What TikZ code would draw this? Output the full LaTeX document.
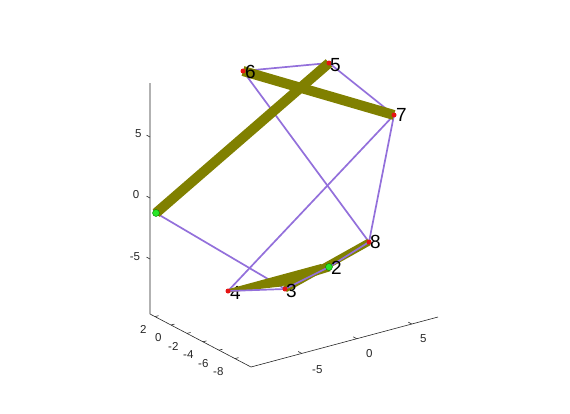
\documentclass[tikz,border=0pt]{standalone}
\usepackage{fontspec}
\setmainfont{Liberation Sans}
\usetikzlibrary{calc}
\definecolor{axc}{RGB}{38,38,38}
\definecolor{edgep}{RGB}{147,112,219}
\definecolor{olivec}{RGB}{128,128,0}
\definecolor{nodered}{RGB}{230,20,20}
\definecolor{nodegreen}{RGB}{40,230,40}
\begin{document}
\begin{tikzpicture}[x=1pt,y=-1pt,
  axisline/.style={draw=axc, line width=0.6pt},
  tickmark/.style={draw=axc, line width=0.6pt},
  ticklbl/.style={font=\fontsize{11.5}{11.5}\selectfont, text=axc, inner sep=0pt},
  thinedge/.style={draw=edgep, line width=1.7pt},
  thickedge/.style={draw=olivec, line width=10pt},
  rednode/.style={circle, fill=nodered, inner sep=0pt, minimum size=5pt},
  greennode/.style={circle, fill=nodegreen, draw=green!50!black, inner sep=0pt, minimum size=7pt, line width=0.4pt},
  lbl/.style={font=\fontsize{19}{19}\selectfont, inner sep=0pt, anchor=west}]
\useasboundingbox (0,0) rectangle (570,413);

% axes
\coordinate (zt) at (150,83);
\coordinate (org) at (150,314);
\coordinate (crn) at (251,367);
\coordinate (xe) at (438,317);
\draw[axisline] (zt) -- (org) -- (crn) -- (xe);

% z ticks
\foreach \yy/\lx/\ly/\t in {137/138.3/133.3/5, 198/136/195/0, 259/135/256.7/-5}{
  \draw[tickmark] (150,\yy) -- ++(-3.5,-1.9);
  \node[ticklbl] (zl\t) at (\lx,\ly) {\t};
}
% y ticks
\foreach \k/\t in {0/2,1/0,2/-2,3/-4,4/-6,5/-8}{
  \pgfmathsetmacro{\tx}{155+16*\k}
  \pgfmathsetmacro{\ty}{314+53*(\tx-150)/101}
  \draw[tickmark] (\tx,\ty) -- ++(3.5,-0.95);
  \node[ticklbl] (yl\k) at ({143.3+15*\k},{329+8.6*\k}) {\t};
}
% x ticks
\foreach \tx/\ty/\lx/\ly/\t in {301.7/353.4/317.3/370/-5, 356.7/338.7/369.3/353.3/0, 411.7/324.0/423.3/339/5}{
  \draw[tickmark] (\tx,\ty) -- ++(-3.5,-1.9);
  \node[ticklbl] (xl\t) at (\lx,\ly) {\t};
}

% graph node positions
\coordinate (p1) at (156,213);
\coordinate (p2) at (329,267);
\coordinate (p3) at (285,289);
\coordinate (p4) at (228,291);
\coordinate (p5) at (329,63);
\coordinate (p6) at (243,71);
\coordinate (p7) at (394,115);
\coordinate (p8) at (369,242);

% thin edges (below thick ones)
\draw[thinedge] (p6) -- (p5);
\draw[thinedge] (p5) -- (p7);
\draw[thinedge] (p6) -- (p8);
\draw[thinedge] (p7) -- (p4);
\draw[thinedge] (p7) -- (p8);
\draw[thinedge] (p1) -- (p3);

% label 4 (partly hidden)
\node[lbl] (l4) at ($(p4)+(2,2)$) {4};

% thick edges
\draw[thickedge] (p1) -- (p5);
\draw[thickedge] (p6) -- (p7);
\draw[thickedge, line width=7pt] (p3) -- (p8);
\fill[olivec] ($(p4)+(-1,-1.5)$) -- (321,264) -- (331,271) -- (281,286.5) -- ($(p4)+(0,1.5)$) -- cycle;

% thin edges on top
\draw[thinedge] (p4) -- (p3);
\draw[thinedge] (p3) -- (p2);
\draw[thinedge] (p2) -- (p8);

% markers
\node[greennode] (n1) at (p1) {};
\node[greennode] (n2) at (p2) {};
\foreach \i in {3,4,5,6,7,8}{ \node[rednode] (n\i) at (p\i) {}; }

% labels
\node[lbl] (l2) at ($(p2)+(2,1)$) {2};
\node[lbl] (l3) at ($(p3)+(1,1.5)$) {3};
\node[lbl] (l5) at ($(p5)+(1,2)$) {5};
\node[lbl] (l6) at ($(p6)+(2,1)$) {6};
\node[lbl] (l7) at ($(p7)+(2,0)$) {7};
\node[lbl] (l8) at ($(p8)+(1,0)$) {8};
\end{tikzpicture}
\end{document}
